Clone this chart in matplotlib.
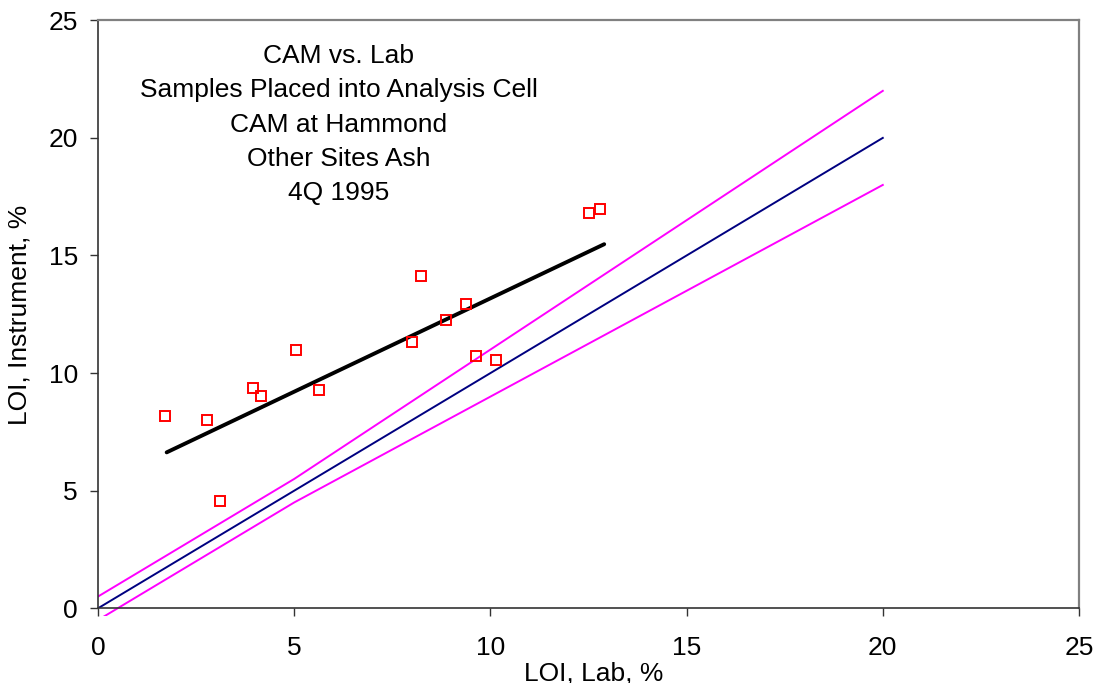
import matplotlib
matplotlib.use("Agg")
import matplotlib.pyplot as plt
from matplotlib.transforms import Bbox, TransformedBbox

plt.rcParams['font.family'] = ['Liberation Sans', 'DejaVu Sans']

# Lab vs. instrument loss-on-ignition samples
lab_loi = [1.70, 2.77, 3.12, 3.94, 4.15, 5.05, 5.62, 8.01, 8.22, 8.88, 9.38, 9.64, 10.15, 12.51, 12.79]
inst_loi = [8.19, 8.02, 4.55, 9.38, 9.04, 10.99, 9.29, 11.34, 14.14, 12.26, 12.95, 10.74, 10.56, 16.79, 16.96]

# Linear trend through the samples (end points)
trend_x = [1.75, 12.90]
trend_y = [6.63, 15.48]

# Reference 1:1 line and tolerance band
ref_x = [0, 1, 2, 3, 4, 5, 6, 7, 8, 9, 10, 11, 12, 13, 14, 15, 16, 17, 18, 19, 20]
ref_y = [0, 1, 2, 3, 4, 5, 6, 7, 8, 9, 10, 11, 12, 13, 14, 15, 16, 17, 18, 19, 20]
upper_y = [0.5, 1.5, 2.5, 3.5, 4.5, 5.5, 6.6, 7.7, 8.8, 9.9, 11.0, 12.1, 13.2,
           14.3, 15.4, 16.5, 17.6, 18.7, 19.8, 20.9, 22.0]
lower_y = [-0.5, 0.5, 1.5, 2.5, 3.5, 4.5, 5.4, 6.3, 7.2, 8.1, 9.0, 9.9, 10.8,
           11.7, 12.6, 13.5, 14.4, 15.3, 16.2, 17.1, 18.0]

ticks = [0, 5, 10, 15, 20, 25]
title_lines = ["CAM vs. Lab", "Samples Placed into Analysis Cell", "CAM at Hammond",
               "Other Sites Ash", "4Q 1995"]

FS = 19
W, H = 1099, 683
fig = plt.figure(figsize=(W / 100, H / 100), dpi=100)
ax = fig.add_axes([98 / W, 1 - 608.3 / H, (1079 - 98) / W, (608.3 - 20.3) / H])

ax.plot(ref_x, upper_y, color='#FF00FF', lw=1.4, zorder=2)
lower_line, = ax.plot(ref_x, lower_y, color='#FF00FF', lw=1.4, zorder=2)
ax.plot(ref_x, ref_y, color='#000080', lw=1.4, zorder=2)
ax.plot(trend_x, trend_y, color='black', lw=2.8, solid_capstyle='round', zorder=3)
ax.plot(lab_loi, inst_loi, linestyle='none', marker='s', markersize=6.5,
        markerfacecolor='none', markeredgecolor='#FF0000', markeredgewidth=1.4, zorder=4)

# let the lower band line run a few pixels below the x axis
lower_line.set_clip_on(True)
lower_line.set_clip_box(TransformedBbox(Bbox([[0, -0.013], [1, 1]]), ax.transAxes))

ax.set_xlim(0, 25)
ax.set_ylim(0, 25)
ax.set_xticks(ticks)
ax.set_yticks(ticks)
ax.tick_params(axis='x', direction='out', length=6, width=1, colors='#333333',
               labelcolor='black', labelsize=FS, pad=14)
ax.tick_params(axis='y', direction='out', length=6, width=1, colors='#333333',
               labelcolor='black', labelsize=FS, pad=8.5)

for side in ('left', 'bottom'):
    ax.spines[side].set_color('#333333')
    ax.spines[side].set_linewidth(1.2)
for side in ('top', 'right'):
    ax.spines[side].set_color('#808080')
    ax.spines[side].set_linewidth(1.6)

fig.text(594 / W, 1 - 680 / H, "LOI, Lab, %", ha='center', va='baseline', fontsize=FS)
fig.text(20 / W, 1 - 315 / H, "LOI, Instrument, %", ha='center', va='center',
         rotation=90, fontsize=FS)

baselines = [63.3, 97.5, 131.7, 165.9, 200.0]
for line, yb in zip(title_lines, baselines):
    fig.text(338.5 / W, 1 - yb / H, line, ha='center', va='baseline', fontsize=FS)

fig.savefig("out.png", dpi=100, facecolor='white')
